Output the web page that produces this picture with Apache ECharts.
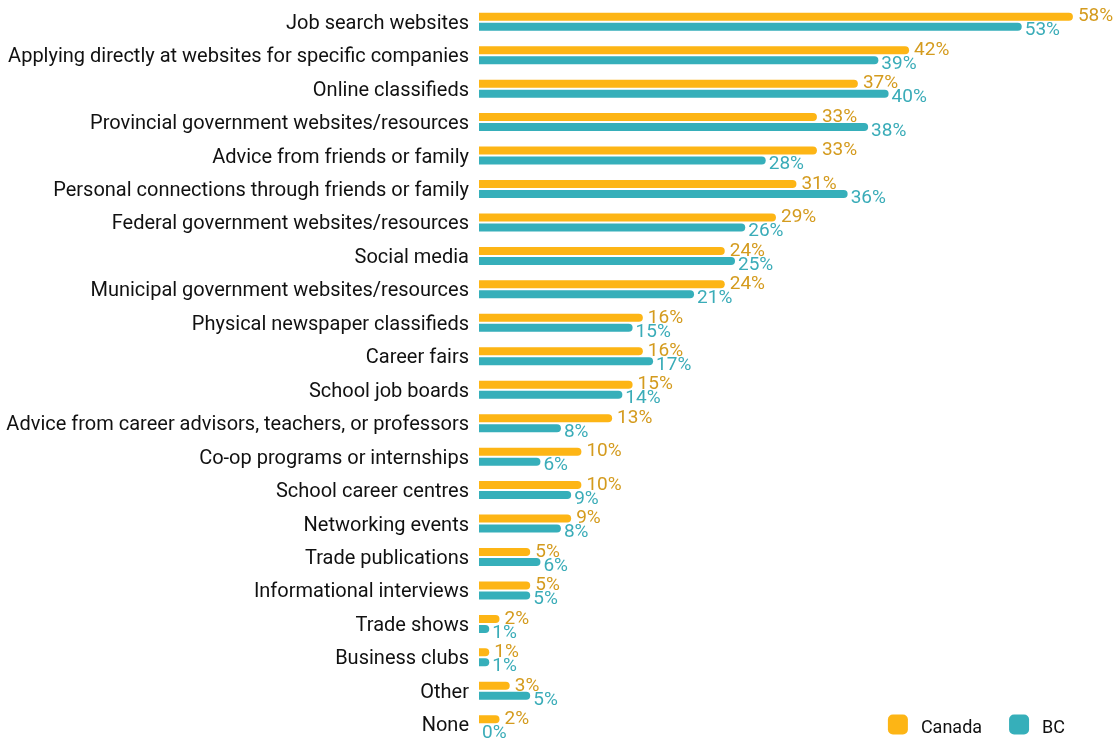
<!DOCTYPE html>
<html>
<head>
<meta charset="utf-8">
<script src="https://cdn.jsdelivr.net/npm/echarts@6/dist/echarts.min.js"></script>
<style>
  html, body { margin: 0; padding: 0; background: #fff; }
  #chart { width: 1116px; height: 742px; }
</style>
</head>
<body>
<div id="chart"></div>
<script>
// Job search methods used, Canada vs BC (% of respondents)
const categories = [
  'Job search websites',
  'Applying directly at websites for specific companies',
  'Online classifieds',
  'Provincial government websites/resources',
  'Advice from friends or family',
  'Personal connections through friends or family',
  'Federal government websites/resources',
  'Social media',
  'Municipal government websites/resources',
  'Physical newspaper classifieds',
  'Career fairs',
  'School job boards',
  'Advice from career advisors, teachers, or professors',
  'Co-op programs or internships',
  'School career centres',
  'Networking events',
  'Trade publications',
  'Informational interviews',
  'Trade shows',
  'Business clubs',
  'Other',
  'None'
];
const canadaValues = [58, 42, 37, 33, 33, 31, 29, 24, 24, 16, 16, 15, 13, 10, 10, 9, 5, 5, 2, 1, 3, 2];
const bcValues     = [53, 39, 40, 38, 28, 36, 26, 25, 21, 15, 17, 14, 8, 6, 9, 8, 6, 5, 1, 1, 5, 0];

const FONT = 'Roboto';
const chart = echarts.init(document.getElementById('chart'), null, { renderer: 'canvas' });

function barSeries(name, values, color, labelColor, dist, offsetY) {
  return {
    name: name,
    type: 'bar',
    data: values,
    barWidth: 8,
    barGap: '25%',
    itemStyle: { color: color, borderRadius: [0, 4, 4, 0] },
    label: {
      show: true,
      position: 'right',
      distance: dist,
      offset: [0, offsetY],
      formatter: '{c}%',
      color: labelColor,
      fontFamily: FONT,
      fontSize: 19
    },
    emphasis: { disabled: true }
  };
}

chart.setOption({
  animation: false,
  backgroundColor: '#ffffff',
  grid: { left: 479, right: 22.6, top: 5, bottom: 1, containLabel: false },
  legend: {
    right: 51,
    bottom: 5,
    padding: 0,
    itemWidth: 20,
    itemHeight: 20,
    itemGap: 27,
    icon: 'roundRect',
    formatter: name => '{t|' + name + '}',
    textStyle: {
      fontFamily: FONT, fontSize: 18, color: '#111',
      rich: { t: { fontFamily: FONT, fontSize: 18, color: '#111', padding: [7, 0, 0, 8] } }
    },
    data: ['Canada', 'BC']
  },
  xAxis: {
    type: 'value',
    min: 0,
    max: 60,
    show: false
  },
  yAxis: {
    type: 'category',
    data: categories,
    inverse: true,
    axisLine: { show: false },
    axisTick: { show: false },
    axisLabel: {
      fontFamily: FONT, fontSize: 20, color: '#111', margin: 10,
      formatter: v => '{c|' + v + '}',
      rich: { c: { fontFamily: FONT, fontSize: 20, color: '#111', padding: [4, 0, 0, 0] } }
    }
  },
  series: [
    barSeries('Canada', canadaValues, '#FDB515', '#D49B1E', 5, 0),
    barSeries('BC', bcValues, '#36AFBA', '#3AACB8', 3, 4)
  ]
});
</script>
</body>
</html>
